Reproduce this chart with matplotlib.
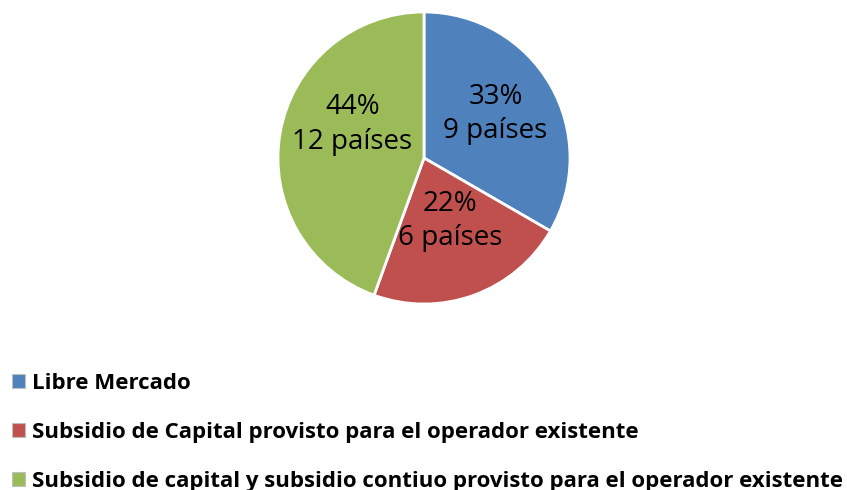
import matplotlib
matplotlib.use("Agg")
import matplotlib.pyplot as plt
from matplotlib.patches import Patch

categories = ["Libre Mercado",
              "Subsidio de Capital provisto para el operador existente",
              "Subsidio de capital y subsidio contiuo provisto para el operador existente"]
counts = [9, 6, 12]
pct_labels = ["33%", "22%", "44%"]
colors = ["#4F81BD", "#C0504D", "#9BBB59"]

plt.rcParams['font.family'] = ['Open Sans', 'DejaVu Sans']

fig = plt.figure(figsize=(8.47, 4.90), dpi=100)
r = 146
cx, cy = 424, 158
W, H = 847, 490
ax = fig.add_axes([(cx - r) / W, 1 - (cy + r) / H, 2 * r / W, 2 * r / H])
labels = [f"{p}\n{c} países" for p, c in zip(pct_labels, counts)]
wedges, texts = ax.pie(counts, colors=colors, startangle=90, counterclock=False,
                       labels=labels, labeldistance=0.55,
                       wedgeprops=dict(edgecolor="white", linewidth=2),
                       textprops=dict(fontsize=20, color="black", ha="center", va="center",
                                      linespacing=1.3))
ax.set_xlim(-1.0, 1.0)
ax.set_ylim(-1.0, 1.0)
ax.set_aspect("equal")
label_pos = [(0.49, 0.30), (0.18, -0.43), (-0.49, 0.23)]
for t, p in zip(texts, label_pos):
    t.set_position(p)

handles = [Patch(facecolor=c, edgecolor="#BFBFBF", linewidth=0.8) for c in colors]
fig.legend(handles, categories, loc="upper left", bbox_to_anchor=(0.014, 1 - 373 / H),
           frameon=False, prop=dict(size=16, weight="bold"), handlelength=0.6,
           handleheight=0.6, handletextpad=0.3, labelspacing=1.25, borderaxespad=0,
           borderpad=0)

fig.savefig("out.png", dpi=100)
